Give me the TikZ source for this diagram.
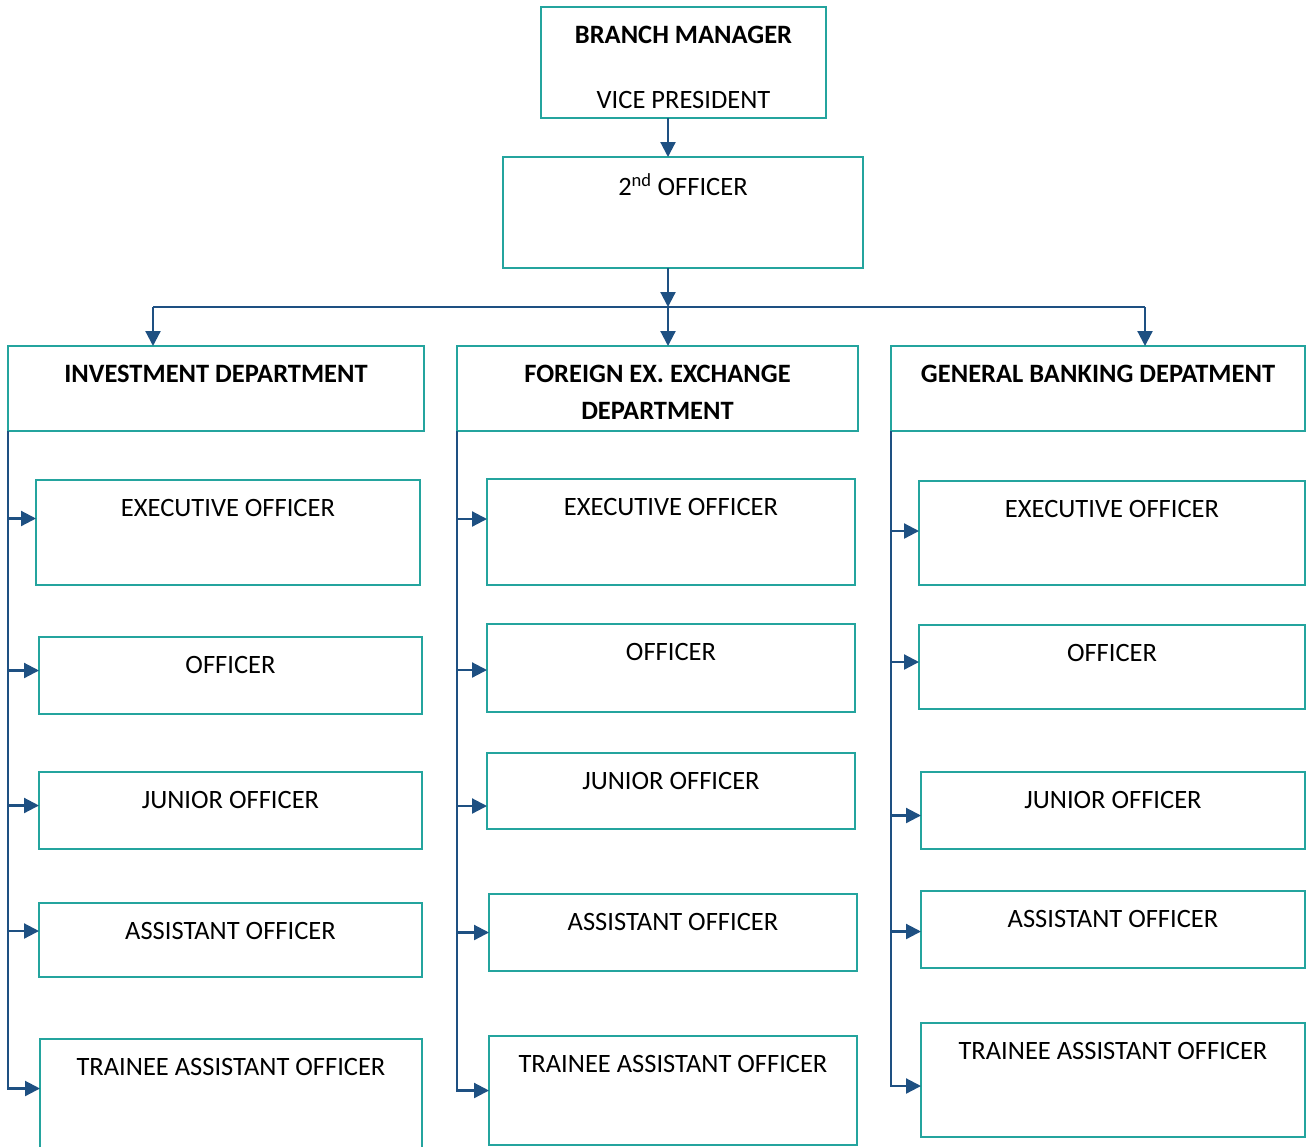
\documentclass[tikz,border=0pt]{standalone}
\usepackage{fontspec}
\setmainfont{Carlito}
\usepackage{tikz}
\usetikzlibrary{calc,positioning,arrows.meta}
\definecolor{boxteal}{RGB}{36,164,158}
\definecolor{linkblue}{RGB}{30,80,130}

\begin{document}
\begin{tikzpicture}[x=1pt, y=-1pt,
    post/.style={draw=boxteal, line width=1.6pt, inner sep=0pt, outer sep=0pt, anchor=north west},
    toptext/.style={anchor=center, yshift=-28pt, font=\fontsize{26.5}{30}\selectfont},
    boldtext/.style={toptext, font=\fontsize{26.5}{37}\selectfont\bfseries, align=center},
    link/.style={draw=linkblue, line width=2.2pt},
    arrow/.style={link, -{Triangle[length=15pt, width=15pt]}},
  ]
  \useasboundingbox (0,0) rectangle (1313,1146);

  \node[post, minimum width=285, minimum height=111,
        label={[boldtext]north:BRANCH MANAGER},
        label={[toptext, yshift=46pt]south:VICE PRESIDENT}] (bm) at (541,7) {};
  \node[post, minimum width=360, minimum height=111,
        label={[toptext]north:2\textsuperscript{nd} OFFICER}] (sec) at (503,157) {};

  \node[post, minimum width=416, minimum height=85,
        label={[boldtext]north:INVESTMENT DEPARTMENT}] (inv) at (8,346) {};
  \node[post, minimum width=401, minimum height=85,
        label={[boldtext, yshift=-18.5pt]north:FOREIGN EX. EXCHANGE\\DEPARTMENT}] (fx) at (457,346) {};
  \node[post, minimum width=414, minimum height=85,
        label={[boldtext]north:GENERAL BANKING DEPATMENT}] (gb) at (891,346) {};

  \node[post, minimum width=384, minimum height=105, label={[toptext]north:EXECUTIVE OFFICER}] (invEO) at (36,480) {};
  \node[post, minimum width=383, minimum height=77, label={[toptext]north:OFFICER}] (invOF) at (39,637) {};
  \node[post, minimum width=383, minimum height=77, label={[toptext]north:JUNIOR OFFICER}] (invJO) at (39,772) {};
  \node[post, minimum width=383, minimum height=74, label={[toptext]north:ASSISTANT OFFICER}] (invAO) at (39,903) {};
  \node[post, minimum width=382, minimum height=115, label={[toptext]north:TRAINEE ASSISTANT OFFICER}] (invTA) at (40,1039) {};

  \node[post, minimum width=368, minimum height=106, label={[toptext]north:EXECUTIVE OFFICER}] (fxEO) at (487,479) {};
  \node[post, minimum width=368, minimum height=88, label={[toptext]north:OFFICER}] (fxOF) at (487,624) {};
  \node[post, minimum width=368, minimum height=76, label={[toptext]north:JUNIOR OFFICER}] (fxJO) at (487,753) {};
  \node[post, minimum width=368, minimum height=77, label={[toptext]north:ASSISTANT OFFICER}] (fxAO) at (489,894) {};
  \node[post, minimum width=368, minimum height=109, label={[toptext]north:TRAINEE ASSISTANT OFFICER}] (fxTA) at (489,1036) {};

  \node[post, minimum width=386, minimum height=104, label={[toptext]north:EXECUTIVE OFFICER}] (gbEO) at (919,481) {};
  \node[post, minimum width=386, minimum height=84, label={[toptext]north:OFFICER}] (gbOF) at (919,625) {};
  \node[post, minimum width=384, minimum height=77, label={[toptext]north:JUNIOR OFFICER}] (gbJO) at (921,772) {};
  \node[post, minimum width=384, minimum height=77, label={[toptext]north:ASSISTANT OFFICER}] (gbAO) at (921,891) {};
  \node[post, minimum width=384, minimum height=114, label={[toptext]north:TRAINEE ASSISTANT OFFICER}] (gbTA) at (921,1023) {};

  \coordinate (spine) at (668,0);
  \coordinate (busL) at (153,307);
  \coordinate (busR) at (1145,307);

  \draw[arrow] (spine |- bm.south) -- (spine |- sec.north);
  \draw[arrow] (spine |- sec.south) -- (spine |- busL);
  \draw[link] (busL) -- (busR);
  \draw[arrow] (busL) -- (busL |- inv.north);
  \draw[arrow] (spine |- busL) -- (spine |- fx.north);
  \draw[arrow] (busR) -- (busR |- gb.north);

  \foreach \dep/\dy in {inv/8, fx/0, gb/-6} {
    \coordinate (tip) at ([yshift=\dy pt]\dep TA.west);
    \draw[arrow] (\dep.south west) |- (tip);
  }
  \foreach \dep/\pos/\dy in {inv/EO/14, inv/OF/5, inv/JO/5, inv/AO/9,
                             fx/EO/13, fx/OF/-2, fx/JO/-15, fx/AO/0,
                             gb/EO/2, gb/OF/5, gb/JO/-5, gb/AO/-2} {
    \coordinate (tip) at ([yshift=\dy pt]\dep\pos.west);
    \draw[arrow] (\dep.south west |- tip) -- (tip);
  }
\end{tikzpicture}
\end{document}
